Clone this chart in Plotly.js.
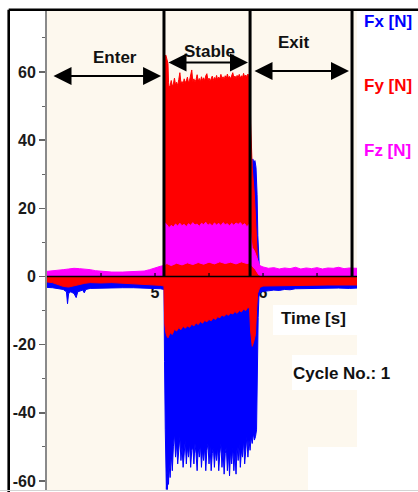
<!DOCTYPE html>
<html>
<head>
<meta charset="utf-8">
<script src="https://cdn.plot.ly/plotly-3.0.1.min.js"></script>
<style>html,body{margin:0;padding:0;background:#fff;}#chart{width:418px;height:492px;}</style>
</head>
<body>
<div id="chart"></div>
<script>
// ---- Fx [N] (blue) envelope ----
const fxTopT = [4.00, 5.083, 5.085, 5.88, 5.895, 5.905, 5.915, 5.925, 5.935, 5.945, 5.952, 5.96, 5.97, 5.99, 6.87];
const fxTop  = [-1.0, -1.0, 0, 0, 20, 34.5, 33.5, 34, 32, 24, 12, 4, 0, -1.5, -2.0];
const fxBotT = [4.00,4.05,4.10,4.15,4.18,4.19,4.20,4.22,4.25,4.27,4.285,4.30,4.33,4.345,4.36,4.40,4.50,4.60,4.70,4.80,4.90,5.00,5.05,5.083,
  5.088,5.095,5.10,5.105,5.11,5.115,5.12,5.125,5.13,5.14,5.15,5.16,5.17,5.18,5.19,5.20,5.21,5.22,5.23,5.24,5.25,5.26,5.27,5.28,5.29,5.30,
  5.31,5.32,5.33,5.34,5.35,5.36,5.37,5.38,5.39,5.40,5.41,5.42,5.43,5.44,5.45,5.46,5.47,5.48,5.49,5.50,5.51,5.52,5.53,5.54,5.55,5.56,5.57,
  5.58,5.59,5.60,5.61,5.62,5.63,5.64,5.65,5.66,5.67,5.68,5.69,5.70,5.71,5.72,5.73,5.74,5.75,5.76,5.77,5.78,5.79,5.80,5.81,5.82,5.83,5.84,
  5.85,5.86,5.87,5.88,5.89,5.90,5.91,5.92,5.93,5.94,5.948,5.955,5.962,5.97,5.99,6.05,6.10,6.15,6.20,6.25,6.30,6.35,6.40,6.50,6.60,6.70,6.80,6.87];
const fxBot  = [-3.2,-3.3,-3.5,-3.8,-4.5,-8.0,-5.0,-4.5,-5.0,-6.2,-4.5,-4.2,-4.0,-4.8,-3.8,-3.5,-3.4,-3.3,-3.3,-3.3,-3.4,-3.5,-3.6,-3.8,
  -25,-45,-55,-62.5,-58,-62.5,-57,-61,-55,-59,-52,-57,-50,-46,-53,-49,-55,-50,-47,-54,-50,-56,-51,-48,-55,-50,
  -53,-49,-56,-51,-50,-55,-49,-52,-57,-50,-53,-49,-56,-51,-54,-50,-57,-51,-49,-55,-50,-57,-52,-50,-56,-51,-54,
  -50,-57,-52,-49,-56,-51,-58,-52,-50,-57,-52,-58.5,-51,-55,-50,-57,-52,-58,-50,-54,-49,-56,-51,-53,-48,-55,-50,
  -47,-53,-48,-51,-47,-49,-46,-48,-47,-45,-30,-12,-6,-4.8,-4.4,-4.2,-4.0,-4.1,-3.8,-3.9,-3.6,-3.7,-3.5,-3.6,-3.5,-3.4,-3.5,-3.4];

// ---- Fy [N] (red) envelope ----
const fyTopT = [4.00,5.08,5.085,5.09,5.10,5.11,5.12,5.125,5.13,
  5.14,5.15,5.16,5.17,5.18,5.19,5.20,5.21,5.22,5.23,5.24,5.25,5.26,5.27,5.28,5.29,5.30,5.31,5.32,5.33,5.34,5.35,5.36,5.37,5.38,5.39,
  5.40,5.41,5.42,5.43,5.44,5.45,5.46,5.47,5.48,5.49,5.50,5.51,5.52,5.53,5.54,5.55,5.56,5.57,5.58,5.59,5.60,5.61,5.62,5.63,5.64,5.65,
  5.66,5.67,5.68,5.69,5.70,5.71,5.72,5.73,5.74,5.75,5.76,5.77,5.78,5.79,5.80,5.81,5.82,5.83,5.84,5.85,5.86,5.87,5.88,
  5.885,5.90,5.92,5.935,5.95,5.97,6.00,6.87];
const fyTop  = [0.5,0.5,40,64.5,65,64,62.5,57,55.5,
  56.0,57.5,55.8,56.5,58.2,56.2,57.0,56.0,57.8,59.8,56.8,57.2,56.4,58.0,56.9,57.4,58.5,56.8,57.6,59.0,60.6,57.2,58.0,57.0,57.8,59.2,
  57.3,58.1,57.1,58.6,57.5,58.3,57.4,58.9,59.5,57.6,58.2,57.3,58.0,58.8,57.5,58.4,57.8,59.0,57.7,58.5,57.9,59.3,58.0,58.6,57.8,58.9,
  58.1,59.4,58.2,58.7,58.0,59.2,59.8,58.3,58.8,58.1,59.0,58.4,59.3,58.2,58.9,58.4,59.6,58.5,59.1,58.6,59.4,58.8,58.5,
  45,32,24,12,4,1,0.5,0.5];
const fyBotT = [4.00,4.05,4.10,4.15,4.20,4.25,4.30,4.35,4.40,4.50,4.60,4.70,4.80,4.90,5.00,5.05,5.083,
  5.09,5.10,5.11,5.12,5.14,5.16,5.18,5.20,5.22,5.24,5.26,5.28,5.30,5.32,5.34,5.36,5.38,5.40,5.42,5.44,5.46,5.48,5.50,
  5.52,5.54,5.56,5.58,5.60,5.62,5.64,5.66,5.68,5.70,5.72,5.74,5.76,5.78,5.80,5.82,5.84,5.86,5.875,
  5.885,5.90,5.915,5.93,5.94,5.95,5.97,6.00,6.10,6.20,6.40,6.60,6.87];
const fyBot  = [-1.6,-1.8,-2.3,-2.9,-3.1,-2.9,-2.4,-2.0,-1.8,-1.9,-1.8,-2.0,-2.1,-2.3,-2.5,-2.6,-2.8,
  -14,-16.5,-17.5,-18,-16.5,-17,-15.5,-16,-15,-15.6,-14.6,-15.2,-14.5,-14.9,-14.0,-14.5,-13.6,-14.1,-13.2,-13.7,-12.9,-13.3,-12.6,
  -13.0,-12.2,-12.6,-11.8,-12.1,-11.3,-11.7,-11.0,-11.4,-10.7,-11.0,-10.3,-10.8,-10.0,-10.4,-9.6,-10.0,-9.0,-9.5,
  -16,-20.5,-19,-17,-10,-5,-3.2,-2.8,-2.7,-2.6,-2.6,-2.5,-2.5];

// ---- Fz [N] (magenta) envelope ----
const fzTopT = [4.00,4.05,4.10,4.15,4.20,4.25,4.30,4.35,4.40,4.45,4.50,4.60,4.70,4.80,4.90,4.95,5.00,5.05,5.08,
  5.09,5.11,5.13,5.15,5.17,5.19,5.21,5.23,5.25,5.27,5.29,5.31,5.33,5.35,5.37,5.39,5.41,5.43,5.45,5.47,5.49,5.51,5.53,5.55,5.57,
  5.59,5.61,5.63,5.65,5.67,5.69,5.71,5.73,5.75,5.77,5.79,5.81,5.83,5.85,5.87,5.88,
  5.89,5.90,5.92,5.94,5.955,5.97,6.00,6.05,6.10,6.15,6.20,6.25,6.30,6.35,6.40,6.45,6.50,6.55,6.60,6.65,6.70,6.75,6.80,6.87];
const fzTop  = [1.5,1.6,1.8,2.0,2.2,2.4,2.3,2.2,2.0,1.7,1.5,1.3,1.3,1.4,1.6,2.0,2.6,3.0,3.2,
  15.8,15.2,14.3,15.0,14.5,15.4,14.8,15.6,14.9,15.3,14.6,15.5,15.0,15.8,15.1,15.4,14.7,15.6,15.2,15.9,15.0,15.5,14.8,15.7,15.1,
  15.6,14.9,15.8,15.2,15.5,14.8,15.6,15.0,15.7,15.3,15.8,15.0,15.5,14.6,15.2,14.8,
  11,8.5,7.5,6.0,4.5,3.2,2.8,2.4,2.6,2.2,2.5,2.3,2.7,2.2,2.5,2.3,2.6,2.2,2.5,2.4,2.7,2.3,2.5,2.4];
const fzBotT = [4.00,5.083,5.09,5.11,5.15,5.20,5.25,5.30,5.35,5.40,5.45,5.50,5.55,5.60,5.65,5.70,5.75,5.80,5.85,5.88,5.90,5.93,5.96,6.00,6.87];
const fzBot  = [0,0,3.5,3.8,3.2,3.9,3.4,4.0,3.5,4.1,3.6,4.2,3.7,4.3,3.8,4.2,3.7,4.3,3.8,4.0,3.0,2.0,0.5,0,0];

// ---- phases, axes, labels ----
const phaseBounds = [5.083, 5.88, 6.824];
const phaseNames = ['Enter', 'Stable', 'Exit'];
const phaseArrowFrom = [4.046, 5.111, 5.907];
const phaseArrowTo = [5.056, 5.861, 6.796];
const phaseArrowY = [58.8, 62.8, 60.3];
const phaseLabelX = [4.63, 5.5, 6.287];
const phaseLabelY = [64.4, 65.9, 68.8];
const seriesNames = ['Fx [N]', 'Fy [N]', 'Fz [N]'];
const seriesColors = ['#0000ff', '#ff0000', '#ff00ff'];
const yTicks = [-60, -40, -20, 0, 20, 40, 60];
const yTickText = ['-60', '-40', '-20', '0', '20', '40', '60'];
const xTickMarks = [4.5, 5, 5.5, 6, 6.5];
const xLabelVals = [5, 6];
const xLabelText = ['5', '6'];

// pixel -> paper helpers (plot area x 47..357, y 11..490)
const PL = 47, PR = 357, PT = 11, PB = 490;
const px = x => (x - PL) / (PR - PL);
const py = y => (PB - y) / (PB - PT);

const FONT = 'Arial, "Liberation Sans", sans-serif';

function band(tTop, top, tBot, bot, color) {
  return {
    type: 'scatter', mode: 'lines',
    x: tTop.concat(tBot.slice().reverse()),
    y: top.concat(bot.slice().reverse()),
    fill: 'toself', fillcolor: color,
    line: {color: color, width: 1},
    hoverinfo: 'skip', showlegend: false
  };
}

const data = [
  band(fxTopT, fxTop, fxBotT, fxBot, seriesColors[0]),
  band(fyTopT, fyTop, fyBotT, fyBot, seriesColors[1]),
  band(fzTopT, fzTop, fzBotT, fzBot, seriesColors[2])
];

const shapes = [];
// white patches (screenshot artefacts / label boxes)
shapes.push({type:'rect', xref:'paper', yref:'paper', x0:px(273), x1:1, y0:py(335), y1:py(305), fillcolor:'#ffffff', line:{width:0}, layer:'above'});
shapes.push({type:'rect', xref:'paper', yref:'paper', x0:px(292), x1:1, y0:py(390), y1:py(355), fillcolor:'#ffffff', line:{width:0}, layer:'above'});
shapes.push({type:'rect', xref:'paper', yref:'paper', x0:px(308), x1:1, y0:0, y1:py(447), fillcolor:'#ffffff', line:{width:0}, layer:'above'});
// phase separators
phaseBounds.forEach(b => shapes.push({type:'line', xref:'x', yref:'y', x0:b, x1:b, y0:0, y1:80, line:{color:'#000', width:3}, layer:'above'}));
// zero line
shapes.push({type:'line', xref:'paper', yref:'y', x0:0, x1:1, y0:0, y1:0, line:{color:'#000', width:1.5}, layer:'above'});
// x tick marks on the zero line
xTickMarks.forEach(t => shapes.push({type:'line', xref:'x', yref:'y', x0:t, x1:t, y0:0, y1:1.0, line:{color:'#000', width:1.2}, layer:'above'}));
// outer frame
shapes.push({type:'line', xref:'paper', yref:'paper', x0:px(8.7), x1:px(418), y0:py(9.7), y1:py(9.7), line:{color:'#000', width:2.6}, layer:'above'});
shapes.push({type:'line', xref:'paper', yref:'paper', x0:px(8.7), x1:px(8.7), y0:py(492), y1:py(9.7), line:{color:'#000', width:2.6}, layer:'above'});
shapes.push({type:'line', xref:'paper', yref:'paper', x0:px(0), x1:px(418), y0:py(490.5), y1:py(490.5), line:{color:'#d4d4d4', width:1}, layer:'above'});

const annotations = [];
phaseNames.forEach((n, i) => {
  annotations.push({x: phaseLabelX[i], y: phaseLabelY[i], xref:'x', yref:'y', text: n, showarrow:false,
    font:{family:FONT, size:17, color:'#111', weight:'bold'}, xanchor:'center', yanchor:'middle'});
  annotations.push({x: phaseArrowTo[i], y: phaseArrowY[i], ax: phaseArrowFrom[i], ay: phaseArrowY[i],
    xref:'x', yref:'y', axref:'x', ayref:'y', text:'', showarrow:true,
    arrowside:'end+start', arrowhead:2, startarrowhead:2, arrowsize:1.8, startarrowsize:1.8,
    arrowwidth:2, arrowcolor:'#000', standoff:0, startstandoff:0});
});
const legY = [21, 86, 150];
seriesNames.forEach((n, i) => {
  annotations.push({xref:'paper', yref:'paper', x: px(362), y: py(legY[i]), text: n, showarrow:false,
    xanchor:'left', yanchor:'middle', font:{family:FONT, size:17, color:seriesColors[i], weight:'bold'}});
});
annotations.push({xref:'paper', yref:'paper', x: px(279), y: py(318.5), text:'Time [s]', showarrow:false,
  xanchor:'left', yanchor:'middle', font:{family:FONT, size:17, color:'#111', weight:'bold'}});
annotations.push({xref:'paper', yref:'paper', x: px(291), y: py(373), text:'Cycle No.: 1', showarrow:false,
  xanchor:'left', yanchor:'middle', font:{family:FONT, size:17, color:'#111', weight:'bold'}});

const layout = {
  width: 418, height: 492,
  margin: {l: PL, r: 418 - PR, t: PT, b: 492 - PB, pad: 0},
  paper_bgcolor: '#ffffff',
  plot_bgcolor: '#fdf8ee',
  showlegend: false,
  xaxis: {
    range: [4.0, 6.87], anchor: 'free', position: py(276.5),
    showgrid: false, zeroline: false, showline: false,
    tickvals: xLabelVals, ticktext: xLabelText,
    ticks: 'outside', ticklen: 1, tickcolor: 'rgba(0,0,0,0)',
    tickfont: {family: FONT, size: 16, color: '#111', weight: 'bold'},
    layer: 'below traces', fixedrange: true
  },
  yaxis: {
    range: [-62.65, 77.9],
    showgrid: false, zeroline: false,
    showline: true, linecolor: '#8a8a8a', linewidth: 2,
    tickvals: yTicks, ticktext: yTickText,
    ticks: 'outside', ticklen: 6, tickwidth: 1.5, tickcolor: '#666',
    minor: {dtick: 10, ticks: 'outside', ticklen: 3, tickcolor: '#666', tickwidth: 1},
    tickfont: {family: FONT, size: 16, color: '#1a1a1a', weight: 'bold'},
    fixedrange: true
  },
  shapes: shapes,
  annotations: annotations
};

Plotly.newPlot('chart', data, layout, {staticPlot: true, displayModeBar: false});
</script>
</body>
</html>
